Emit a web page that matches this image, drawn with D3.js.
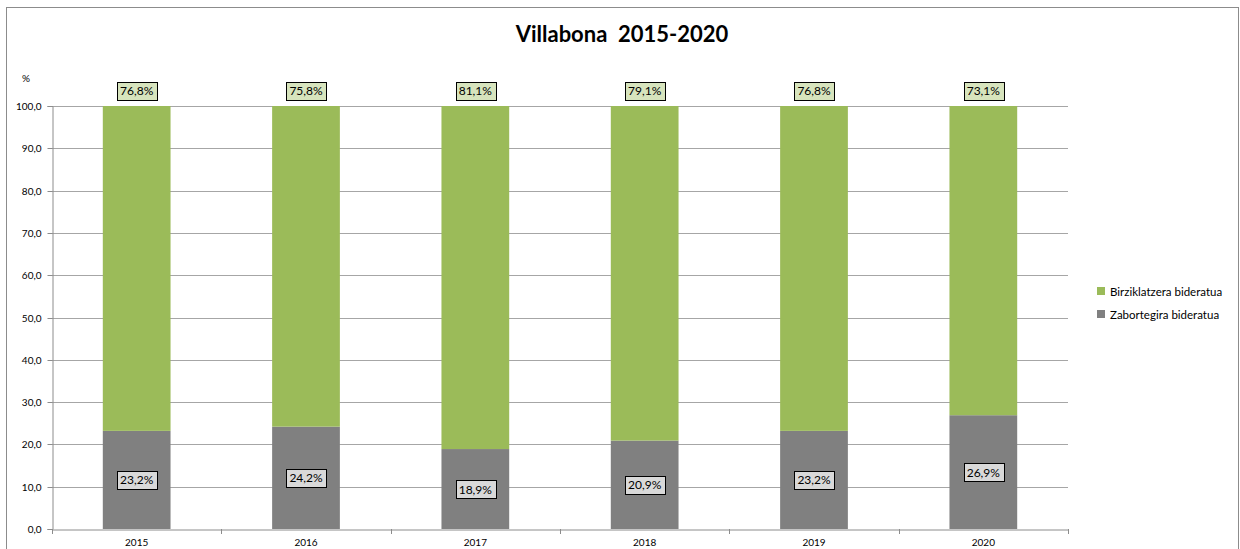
<!DOCTYPE html>
<html><head><meta charset="utf-8">
<script src="https://cdn.jsdelivr.net/npm/d3@7"></script>
<style>body{margin:0;background:#fff}svg{display:block}text{font-family:Lato,"Open Sans",sans-serif}</style>
</head><body>
<svg id="c" width="1240" height="549"></svg>
<script>
const years = ["2015","2016","2017","2018","2019","2020"];
const zabortegira = [23.2, 24.2, 18.9, 20.9, 23.2, 26.9];
const birziklatzera = [76.8, 75.8, 81.1, 79.1, 76.8, 73.1];
const seriesNames = ["Birziklatzera bideratua", "Zabortegira bideratua"];
const yTicks = [0,10,20,30,40,50,60,70,80,90,100];

const svg = d3.select("#c");
svg.append("rect").attr("x",6.5).attr("y",7.5).attr("width",1232).attr("height",560)
  .attr("fill","#fff").attr("stroke","#8c8c8c").attr("stroke-width",1);

const L = 52, R = 1068, T = 106, B = 529;
const x = d3.scaleBand().domain(years).range([L,R]).paddingInner(0.6).paddingOuter(0.3);
const xb = d3.scaleBand().domain(years).range([L,R]);
const y = d3.scaleLinear().domain([0,100]).range([B,T]);
const fmt = v => d3.format(".1f")(v).replace(".",",");

// gridlines
svg.append("g").selectAll("line").data(yTicks.filter(d=>d>0)).join("line")
  .attr("x1",L).attr("x2",R).attr("y1",d=>Math.round(y(d))+0.5).attr("y2",d=>Math.round(y(d))+0.5)
  .attr("stroke","#a6a6a6").attr("stroke-width",1);

// y axis
const ya = svg.append("g").attr("transform",`translate(${L+0.5},0)`)
  .call(d3.axisLeft(y).tickValues(yTicks).tickFormat(fmt).tickSize(5).tickPadding(6));
ya.select(".domain").attr("stroke","#8c8c8c");
ya.selectAll(".tick line").attr("stroke","#8c8c8c");
ya.selectAll(".tick text").attr("font-size",10).attr("fill","#000");
ya.selectAll(".tick").attr("transform",d=>`translate(0,${Math.round(y(d))+0.5})`);

// bars
const g = svg.append("g");
g.selectAll(".z").data(years).join("rect")
  .attr("x",d=>x(d)).attr("width",x.bandwidth())
  .attr("y",(d,i)=>y(zabortegira[i])).attr("height",(d,i)=>B-y(zabortegira[i]))
  .attr("fill","#808080");
g.selectAll(".b").data(years).join("rect")
  .attr("x",d=>x(d)).attr("width",x.bandwidth())
  .attr("y",(d,i)=>y(100)).attr("height",(d,i)=>y(zabortegira[i])-y(100))
  .attr("fill","#9bbb59");

// x axis
const xa = svg.append("g").attr("transform",`translate(0,${B+0.5})`)
  .call(d3.axisBottom(xb).tickSize(0).tickPadding(9));
xa.select(".domain").attr("stroke","#8c8c8c");
xa.selectAll(".tick text").attr("font-size",10).attr("fill","#000");
svg.append("g").selectAll("line").data(d3.range(years.length+1)).join("line")
  .attr("x1",i=>Math.round(L+i*xb.step())+0.5).attr("x2",i=>Math.round(L+i*xb.step())+0.5)
  .attr("y1",B).attr("y2",B+5).attr("stroke","#8c8c8c");

// labels
function label(cx, cy, txt, fill){
  const t = svg.append("text").attr("x",cx).attr("y",cy).attr("text-anchor","middle")
    .attr("dominant-baseline","central").attr("font-size",12).attr("fill","#000").text(txt);
  const bb = t.node().getBBox();
  svg.insert("rect", () => t.node()).attr("x",Math.round(cx-bb.width/2-3)+0.5).attr("y",Math.round(cy-9)+0.5)
    .attr("width",Math.round(bb.width+6)).attr("height",18).attr("fill",fill).attr("stroke","#000").attr("stroke-width",1);
}
years.forEach((yr,i)=>{
  const cx = x(yr)+x.bandwidth()/2;
  label(cx, 90.5, fmt(birziklatzera[i])+"%", "#d7e4bd");
  label(cx, y(zabortegira[i]/2), fmt(zabortegira[i])+"%", "#d9d9d9");
});

// % label
svg.append("text").attr("x",22).attr("y",82).attr("font-size",10).text("%");

// title
svg.append("text").attr("x",622).attr("y",42).attr("text-anchor","middle")
  .style("white-space","pre")
  .attr("font-size",22).attr("font-weight","bold").text("Villabona  2015-2020");

// legend
const colors = ["#9bbb59","#808080"];
const lg = svg.append("g");
seriesNames.forEach((n,i)=>{
  const yy = 291 + i*23;
  lg.append("rect").attr("x",1097).attr("y",yy-4).attr("width",8).attr("height",8).attr("fill",colors[i]);
  lg.append("text").attr("x",1110).attr("y",yy).attr("dominant-baseline","central").attr("font-size",11.5).text(n);
});
</script>
</body></html>
